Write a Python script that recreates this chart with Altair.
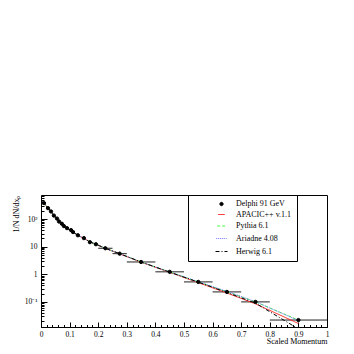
import altair as alt
import pandas as pd

# ---- data ----
data_x = [0.0105, 0.0245, 0.035, 0.045, 0.056, 0.063, 0.073, 0.080, 0.091, 0.105,
          0.112, 0.129, 0.150, 0.171, 0.192, 0.225, 0.275, 0.35, 0.45, 0.55,
          0.65, 0.75, 0.9]
data_y = [380, 250, 190, 135, 105, 82, 68, 56, 47, 40,
          34, 26, 20.5, 14.6, 12.3, 8.8, 5.6, 2.8, 1.23, 0.53,
          0.23, 0.10, 0.022]

bin_lo = [0.2, 0.25, 0.3, 0.4, 0.5, 0.6, 0.7, 0.8]
bin_hi = [0.25, 0.3, 0.4, 0.5, 0.6, 0.7, 0.8, 1.0]
bin_x = [0.225, 0.275, 0.35, 0.45, 0.55, 0.65, 0.75, 0.9]
bin_y = [8.8, 5.6, 2.8, 1.23, 0.53, 0.23, 0.10, 0.022]

mc_x = [0.004, 0.0105, 0.0245, 0.035, 0.045, 0.056, 0.063, 0.073, 0.080, 0.091,
        0.105, 0.112, 0.129, 0.150, 0.171, 0.192, 0.225, 0.275, 0.35, 0.45,
        0.55, 0.65, 0.75, 0.9]
apacic = [430, 370, 250, 185, 135, 104, 83, 68, 57, 47,
          39, 34, 26, 20, 15, 12.2, 8.7, 5.5, 2.75, 1.18,
          0.50, 0.21, 0.085, 0.0165]
pythia = [430, 372, 252, 187, 136, 105, 83, 68, 57, 47,
          39, 34, 26, 20.2, 15, 12.3, 8.8, 5.6, 2.8, 1.22,
          0.53, 0.235, 0.100, 0.022]
ariadne = [430, 372, 252, 187, 136, 105, 83, 68, 57, 47,
           39, 34, 26, 20.2, 15, 12.3, 8.8, 5.6, 2.8, 1.22,
           0.54, 0.24, 0.102, 0.021]
herwig = [430, 372, 252, 187, 136, 105, 83, 68, 57, 47,
          39, 34, 26, 20.2, 15, 12.3, 8.8, 5.6, 2.8, 1.2,
          0.52, 0.22, 0.090, 0.0105]

series_names = ["Delphi 91 GeV", "APACIC++ v.1.1", "Pythia 6.1", "Ariadne 4.08", "Herwig 6.1"]
series_colors = ["black", "#ff2020", "#40ff40", "#7070ff", "black"]
series_shapes = ["circle", "stroke", "stroke", "stroke", "stroke"]
series_dash = [[1, 0], [1, 0], [3, 2], [1, 1], [4, 2, 1, 2]]
series_sizes = [11, 144, 144, 144, 144]

x_major = [0, 0.1, 0.2, 0.3, 0.4, 0.5, 0.6, 0.7, 0.8, 0.9, 1.0]
x_minor = [round(i * 0.02, 2) for i in range(51)]
y_major = [0.1, 1, 10, 100]
y_minor = [m * d for d in [0.01, 0.1, 1, 10, 100] for m in range(2, 10) if 0.0123 < m * d < 750]

# ---- tables ----
pts = pd.DataFrame({"x": data_x, "y": data_y, "series": series_names[0]})
bars = pd.DataFrame({"lo": bin_lo, "hi": bin_hi, "x": bin_x, "y": bin_y})
rows = []
for name, vals in zip(series_names[1:], [apacic, pythia, ariadne, herwig]):
    for xv, yv in zip(mc_x, vals):
        rows.append({"x": xv, "y": yv, "series": name})
lines = pd.DataFrame(rows)

FONT = "Liberation Serif"
xs = alt.Scale(domain=[0, 1], nice=False, zero=False)
ys = alt.Scale(type="log", domain=[0.0123, 750], nice=False)

legend_kw = dict(
    title=" ", titleOrient="left", titlePadding=22,
    orient="none", legendX=147, legendY=0,
    strokeColor="black", fillColor="white", padding=5,
    labelFont=FONT, labelFontSize=8, labelColor="black",
    symbolStrokeWidth=1, symbolSize=144, rowPadding=2.5, labelOffset=8,
    symbolFillColor="black",
)

color = alt.Color("series:N", scale=alt.Scale(domain=series_names, range=series_colors),
                  legend=alt.Legend(**legend_kw))
shape = alt.Shape("series:N", scale=alt.Scale(domain=series_names, range=series_shapes),
                  legend=alt.Legend(**legend_kw))
dash = alt.StrokeDash("series:N", scale=alt.Scale(domain=series_names, range=series_dash),
                      legend=alt.Legend(**legend_kw))
size = alt.Size("series:N", scale=alt.Scale(domain=series_names, range=series_sizes),
                legend=alt.Legend(**legend_kw))

ax_common = dict(domain=False, grid=False, tickColor="black", labelFont=FONT,
                 labelColor="black", titleFont=FONT, titleColor="black", titleFontWeight="normal")

x_major_axis = alt.Axis(values=x_major, tickSize=5, offset=-5, orient="bottom", labelFontSize=7.5,
                        format="~g", labelPadding=3, title="Scaled Momentum", titleFontSize=8,
                        titleAnchor="end", titlePadding=0, labelFlush=False, **ax_common)
x_minor_axis = alt.Axis(values=x_minor, tickSize=2.5, offset=-2.5, orient="bottom", labels=False,
                        title=None, domain=False, grid=False, tickColor="black")
y_major_axis = alt.Axis(values=y_major, tickSize=6, offset=-6, orient="left", labelFontSize=7.5,
                        labelPadding=4,
                        labelExpr="datum.value == 100 ? '10\u00b2' : datum.value == 10 ? '10' : datum.value == 1 ? '1' : '10\u207b\u00b9'",
                        title="1/N dN/dx\u209a", titleFontSize=8, titleAnchor="end",
                        titleAngle=-90, titleAlign="right", titleBaseline="middle",
                        titleX=-31, titleY=0, labelFlush=False, **ax_common)
y_minor_axis = alt.Axis(values=y_minor, tickSize=3, offset=-3, orient="left", labels=False,
                        title=None, domain=False, grid=False, tickColor="black")

line_layer = alt.Chart(lines).mark_line(strokeWidth=1, clip=True).encode(
    x=alt.X("x:Q", scale=xs, axis=x_major_axis),
    y=alt.Y("y:Q", scale=ys, axis=y_major_axis),
    color=color,
    strokeDash=dash,
    detail="series:N",
)

err_layer = alt.Chart(bars).mark_rule(color="#222", strokeWidth=1, clip=True).encode(
    x=alt.X("lo:Q", scale=xs, axis=x_minor_axis),
    x2="hi:Q",
    y=alt.Y("y:Q", scale=ys, axis=y_minor_axis),
)

pt_layer = alt.Chart(pts).mark_point(filled=False, fill="black", fillOpacity=1, opacity=1,
                                     strokeWidth=1).encode(
    x=alt.X("x:Q", scale=xs, axis=None),
    y=alt.Y("y:Q", scale=ys, axis=None),
    color=color,
    shape=shape,
    size=size,
)

chart = alt.layer(err_layer, line_layer, pt_layer).resolve_axis(
    x="independent", y="independent"
).properties(
    width=286, height=132,
    padding={"left": 33, "top": 187, "right": 19, "bottom": 19},
    autosize=alt.AutoSizeParams(type="none"),
    background="white",
).configure_view(stroke="black", strokeWidth=1)

chart.save("out.html", embed_options={"renderer": "svg", "actions": False})
